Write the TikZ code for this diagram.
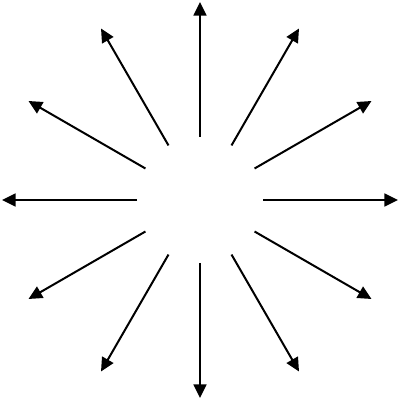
\documentclass[tikz,border=0pt]{standalone}
\usepackage{tikz}
\usetikzlibrary{arrows.meta,calc}
\tikzstyle{ray} = [draw, line width=0.5mm, -{Triangle[width=3.2mm,length=3.4mm]}]

\begin{document}
\begin{tikzpicture}[x=0.025cm, y=0.025cm]

\useasboundingbox (0,0) rectangle (400,400);

\coordinate (centre) at (200,200);

\foreach \a in {0,30,...,330} {
  \coordinate (in\a) at ($(centre)+(\a:63)$);
  \coordinate (out\a) at ($(centre)+(\a:198)$);
  \path [ray] (in\a) -- (out\a);
}

\end{tikzpicture}
\end{document}
